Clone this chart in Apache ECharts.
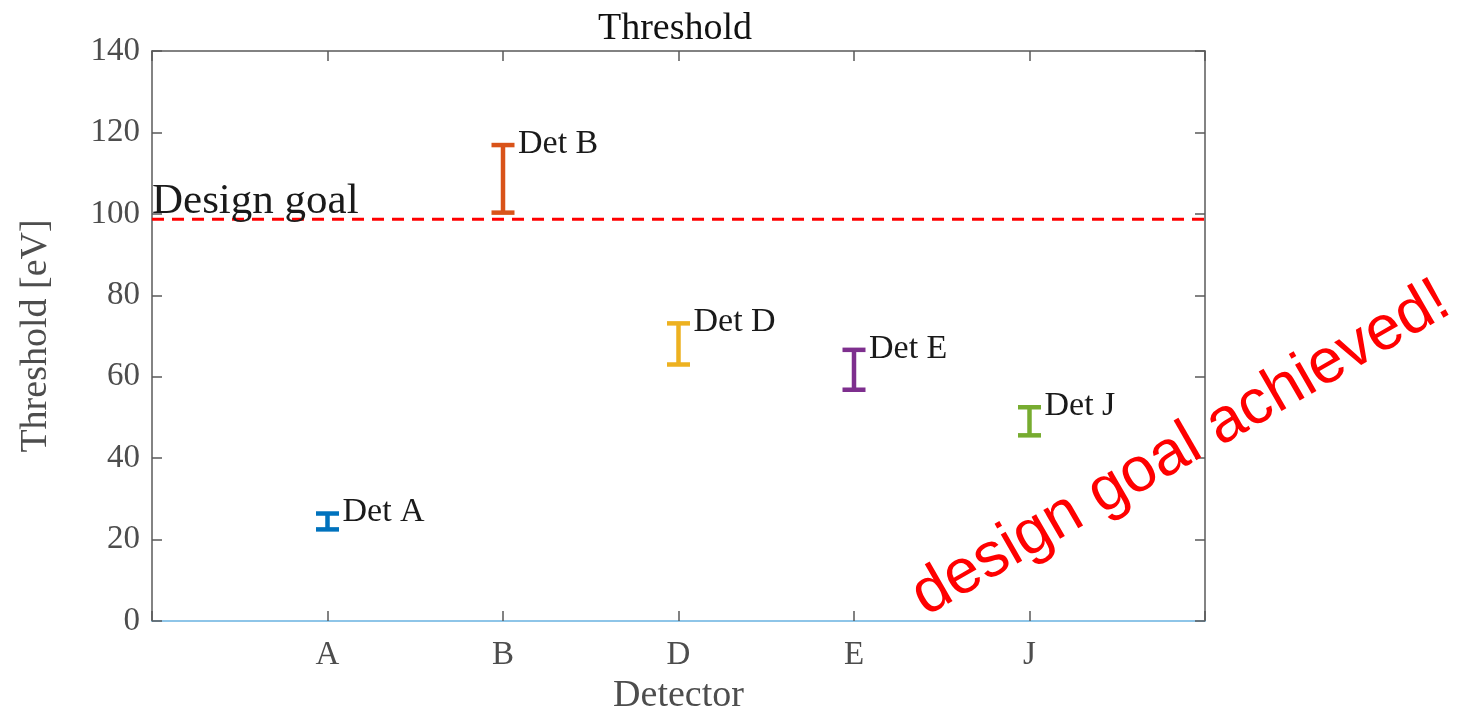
<!DOCTYPE html>
<html>
<head>
<meta charset="utf-8">
<script src="https://cdn.jsdelivr.net/npm/echarts@6/dist/echarts.min.js"></script>
<style>
  html, body { margin: 0; padding: 0; background: #fff; }
  #chart { width: 1463px; height: 713px; }
</style>
</head>
<body>
<div id="chart"></div>
<script>
// detector data
const categories = ['A', 'B', 'D', 'E', 'J']
const detLabels = ['Det A', 'Det B', 'Det D', 'Det E', 'Det J']
const lowValues = [22.5, 100.3, 63.0, 56.8, 45.6]
const highValues = [26.4, 116.9, 73.1, 66.6, 52.5]
const designGoal = 98.7
const yTicks = [0, 20, 40, 60, 80, 100, 120, 140]

// matlab default colour order
const palette = ['#0072BD', '#D95319', '#EDB120', '#7E2F8E', '#77AC30']

const serif = "'Liberation Serif', 'Times New Roman', serif"
const axisColor = '#5a5a5a'

const barData = categories.map((c, i) => [i + 1, lowValues[i], highValues[i], i])

const chart = echarts.init(document.getElementById('chart'))

// shared pieces for the box axes (top / right)
const boxLine = { show: true, onZero: false, lineStyle: { color: axisColor, width: 1.5 } }
const boxTick = { show: true, inside: true, length: 10, lineStyle: { color: axisColor, width: 1.5 } }

const option = {
  animation: false,
  backgroundColor: '#fff',
  title: {
    text: 'Threshold',
    left: 670,
    textAlign: 'center',
    top: 5,
    textStyle: { fontFamily: serif, fontSize: 38, fontWeight: 'normal', color: '#111' },
  },
  grid: { left: 152, right: 258, top: 51, bottom: 92, outerBoundsMode: 'none' },
  xAxis: [
    {
      type: 'value',
      min: 0,
      max: categories.length + 1,
      interval: 1,
      name: 'Detector',
      nameLocation: 'middle',
      nameGap: 56,
      nameTextStyle: { fontFamily: serif, fontSize: 38, color: '#4d4d4d' },
      axisLine: { show: true, onZero: false, lineStyle: { color: '#8ec5e8', width: 2 } },
      axisTick: boxTick,
      axisLabel: {
        margin: 18,
        fontFamily: serif,
        fontSize: 33,
        color: '#4d4d4d',
        formatter: (v) => categories[v - 1] || '',
      },
      splitLine: { show: false },
    },
    {
      type: 'value',
      position: 'top',
      min: 0,
      max: categories.length + 1,
      interval: 1,
      axisLine: boxLine,
      axisTick: boxTick,
      axisLabel: { show: false },
      splitLine: { show: false },
    },
  ],
  yAxis: [
    {
      type: 'value',
      min: yTicks[0],
      max: yTicks[yTicks.length - 1],
      interval: 20,
      name: 'Threshold [eV]',
      nameLocation: 'middle',
      nameGap: 97,
      nameTextStyle: { fontFamily: serif, fontSize: 38, color: '#4d4d4d' },
      axisLine: boxLine,
      axisTick: boxTick,
      axisLabel: { margin: 12, fontFamily: serif, fontSize: 33, color: '#4d4d4d' },
      splitLine: { show: false },
    },
    {
      type: 'value',
      position: 'right',
      min: yTicks[0],
      max: yTicks[yTicks.length - 1],
      interval: 20,
      axisLine: boxLine,
      axisTick: boxTick,
      axisLabel: { show: false },
      splitLine: { show: false },
    },
  ],
  series: [
    // design goal dashed line
    {
      type: 'line',
      data: [[0, designGoal], [categories.length + 1, designGoal]],
      symbol: 'none',
      lineStyle: { color: '#ff0000', width: 3, type: [12, 8] },
      z: 3,
    },
    // "Design goal" text at the left end of the line
    {
      type: 'custom',
      data: [[0, designGoal]],
      renderItem: (params, api) => {
        const p = api.coord([api.value(0), api.value(1)])
        return {
          type: 'text',
          x: p[0],
          y: p[1] + 4,
          style: {
            text: 'Design goal',
            fontFamily: serif,
            fontSize: 43,
            fill: '#1a1a1a',
            align: 'left',
            verticalAlign: 'bottom',
          },
        }
      },
      z: 4,
    },
    // error bars with their labels
    {
      type: 'custom',
      data: barData,
      renderItem: (params, api) => {
        const x = api.value(0)
        const top = api.coord([x, api.value(2)])
        const bot = api.coord([x, api.value(1)])
        const idx = api.value(3)
        const color = palette[idx]
        const half = 11.5
        const style = { stroke: color, lineWidth: 4.5 }
        return {
          type: 'group',
          children: [
            { type: 'line', shape: { x1: top[0], y1: top[1], x2: bot[0], y2: bot[1] }, style },
            { type: 'line', shape: { x1: top[0] - half, y1: top[1], x2: top[0] + half, y2: top[1] }, style },
            { type: 'line', shape: { x1: bot[0] - half, y1: bot[1], x2: bot[0] + half, y2: bot[1] }, style },
            {
              type: 'text',
              x: top[0] + 15,
              y: top[1] - 1,
              style: {
                text: detLabels[idx],
                fontFamily: serif,
                fontSize: 34,
                fill: '#1a1a1a',
                align: 'left',
                verticalAlign: 'middle',
              },
            },
          ],
        }
      },
      z: 5,
    },
  ],
  graphic: [
    {
      type: 'text',
      x: 1181,
      y: 449,
      rotation: Math.PI / 6,
      z: 10,
      style: {
        text: 'design goal achieved!',
        fontFamily: "'Liberation Sans', Arial, sans-serif",
        fontSize: 63,
        fill: '#ff0000',
        align: 'center',
        verticalAlign: 'middle',
      },
    },
  ],
}

chart.setOption(option)
</script>
</body>
</html>
